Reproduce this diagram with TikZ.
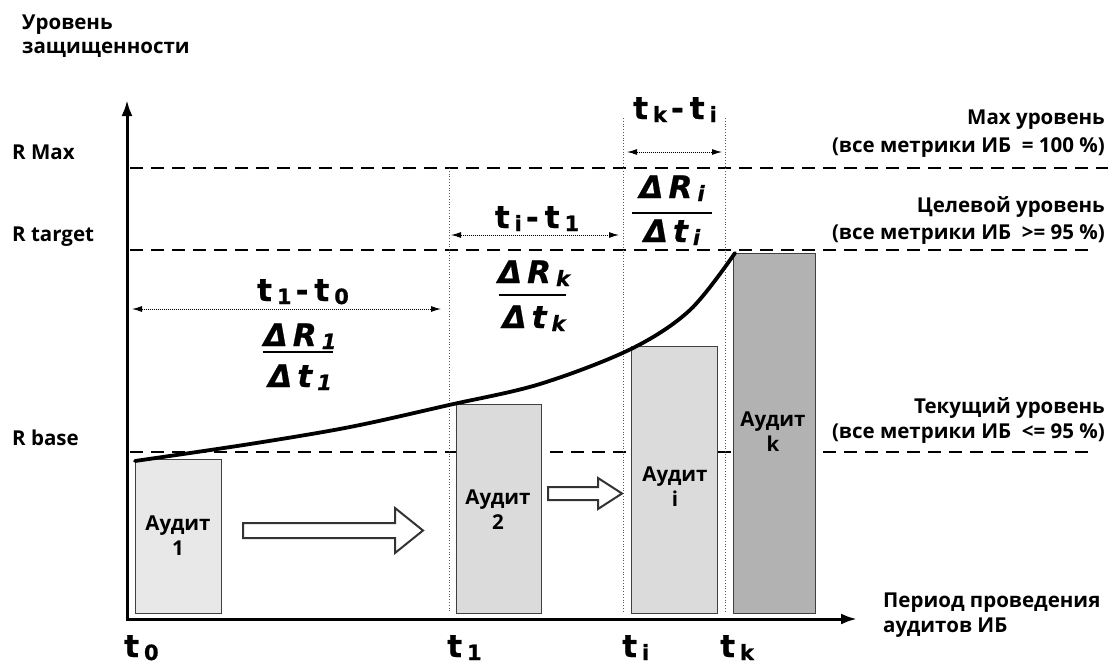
\documentclass[tikz,border=0pt]{standalone}
\usepackage{fontspec}
\setmainfont{Open Sans}
\newfontfamily\dvfont{DejaVu Sans}[BoldFeatures={FakeBold=0.7}, BoldItalicFeatures={FakeBold=0.7}]
\usetikzlibrary{arrows.meta}
\newcommand\subs[2][-3pt]{\hspace{5pt}\raisebox{#1}{\fontsize{21}{21}\selectfont #2}}
\newcommand\dmin{\hspace{4pt}-\hspace{6pt}}
\begin{document}
\begin{tikzpicture}[x=1pt,y=-1pt,
  lbl/.style={font=\fontsize{20.5}{24}\selectfont\bfseries, inner sep=0pt},
  rlbl/.style={lbl, anchor=east},
  llbl/.style={lbl, anchor=west},
  barbox/.style={draw=black!75, line width=1pt},
  lvl/.style={dash pattern=on 13pt off 8pt, line width=1.6pt},
  vdot/.style={dotted, line width=0.8pt, black!65},
  dimline/.style={densely dotted, line width=1pt, {Latex[length=10pt,width=6pt]}-{Latex[length=10pt,width=6pt]}},
  bigt/.style={font=\dvfont\fontsize{31}{32}\selectfont\bfseries, inner sep=0pt, anchor=base},
  bigi/.style={font=\dvfont\fontsize{31}{32}\selectfont\bfseries\itshape, inner sep=0pt, anchor=base},
  barlbl/.style={lbl, align=center, font=\fontsize{20.5}{25}\selectfont\bfseries},
  blockarrow/.style={draw=black!80, fill=white, line width=2pt, line join=miter},
  fracbar/.style={line width=1.8pt}
]
\useasboundingbox (0,0) rectangle (1108,664);

% axis title
\node[llbl] (yt1) at (22,25) {Уровень};
\node[llbl] (yt2) at (22,50) {защищенности};

% left level labels
\node[llbl] (rmax) at (12,152) {R Max};
\node[llbl] (rtarget) at (12,237) {R target};
\node[llbl] (rbase) at (12,438) {R base};

% right level labels
\node[rlbl] (maxa) at (1105,120) {Max уровень};
\node[rlbl] (maxb) at (1105,148) {(все метрики ИБ\ \ = 100 \%)};
\node[rlbl] (tga) at (1105,207) {Целевой уровень};
\node[rlbl] (tgb) at (1105,235) {(все метрики ИБ\ \ >= 95 \%)};
\node[rlbl] (cra) at (1105,408) {Текущий уровень};
\node[rlbl] (crb) at (1105,434) {(все метрики ИБ\ \ <= 95 \%)};

% period label
\node[llbl] (pa) at (883,603) {Период проведения};
\node[llbl] (pb) at (883,628) {аудитов ИБ};

% level dashed lines
\coordinate (m0) at (130,168); \coordinate (m1) at (1108,168);
\coordinate (g0) at (130,250); \coordinate (g1) at (1090,250);
\coordinate (b0) at (130,452); \coordinate (b1) at (1090,452);
\draw[lvl] (m0) -- (m1);
\draw[lvl] (g0) -- (g1);
\draw[lvl] (b0) -- (b1);

% vertical dotted guides
\coordinate (v1a) at (449,168); \coordinate (v1b) at (449,613);
\coordinate (v2a) at (623,118); \coordinate (v2b) at (623,613);
\coordinate (v3a) at (725,118); \coordinate (v3b) at (725,613);
\draw[vdot] (v1a) -- (v1b);
\draw[vdot] (v2a) -- (v2b);
\draw[vdot] (v3a) -- (v3b);

% bars
\filldraw[barbox, fill=black!9] (135,459) rectangle (221,613);
\filldraw[barbox, fill=black!14] (456,404) rectangle (541,613);
\filldraw[barbox, fill=black!14] (631,346) rectangle (717,613);
\filldraw[barbox, fill=black!30] (733,253) rectangle (815,613);
\node[barlbl] (a1) at (178,536) {Аудит\\1};
\node[barlbl] (a2) at (498,510) {Аудит\\2};
\node[barlbl] (ai) at (675,487) {Аудит\\i};
\node[barlbl] (ak) at (773,432) {Аудит\\k};

% block arrows
\draw[blockarrow] (243,523) -- (395,523) -- (395,508) -- (423,530.5) -- (395,553) -- (395,538) -- (243,538) -- cycle;
\draw[blockarrow] (548,487) -- (598,487) -- (598,478) -- (622,493.5) -- (598,509) -- (598,500) -- (548,500) -- cycle;

% curve
\draw[line width=3.8pt, line cap=round] plot[smooth, tension=0.55] coordinates
  {(135,461) (250,444) (350,427) (449,405) (540,384) (631,349) (690,310) (735,253)};

% axes
\coordinate (O) at (127,619);
\coordinate (ytip) at (127,100);
\coordinate (xtip) at (857,619);
\draw[line width=3pt, {Latex[length=16pt,width=11pt]}-{Latex[length=16pt,width=11pt]}] (ytip) -- (O) -- (xtip);

% dimension arrows
\coordinate (d1a) at (132,309); \coordinate (d1b) at (441,309);
\coordinate (d2a) at (451,235); \coordinate (d2b) at (619,235);
\coordinate (d3a) at (627,152); \coordinate (d3b) at (722,152);
\draw[dimline] (d1a) -- (d1b);
\draw[dimline] (d2a) -- (d2b);
\draw[dimline] (d3a) -- (d3b);

\node[bigt] (l10) at (303,301) {t\subs{1}\dmin t\subs{0}};
\node[bigt] (li1) at (537,228) {t\subs{i}\dmin t\subs{1}};
\node[bigt] (lki) at (675,119) {t\subs{k}\dmin t\subs{i}};

% fractions
\node[bigi] (f1n) at (300,346) {Δ\,R\subs{1}};
\draw[fracbar] (263,352) -- (333,352);
\node[bigi] (f1d) at (300,387) {Δ\,t\subs{1}};

\node[bigi] (fkn) at (534,283) {Δ\,R\subs{k}};
\draw[fracbar] (499,295) -- (566,295);
\node[bigi] (fkd) at (534,328) {Δ\,t\subs{k}};

\node[bigi] (fin) at (672,198) {Δ\,R\subs{i}};
\draw[fracbar] (632,213) -- (712,213);
\node[bigi] (fid) at (672,242) {Δ\,t\subs{i}};

% time labels
\node[bigt, anchor=base west] (t0) at (124,657) {t\subs{0}};
\node[bigt, anchor=base west] (t1) at (447,657) {t\subs{1}};
\node[bigt, anchor=base west] (ti) at (622,657) {t\subs{i}};
\node[bigt, anchor=base west] (tk) at (720,657) {t\subs{k}};
\end{tikzpicture}
\end{document}
